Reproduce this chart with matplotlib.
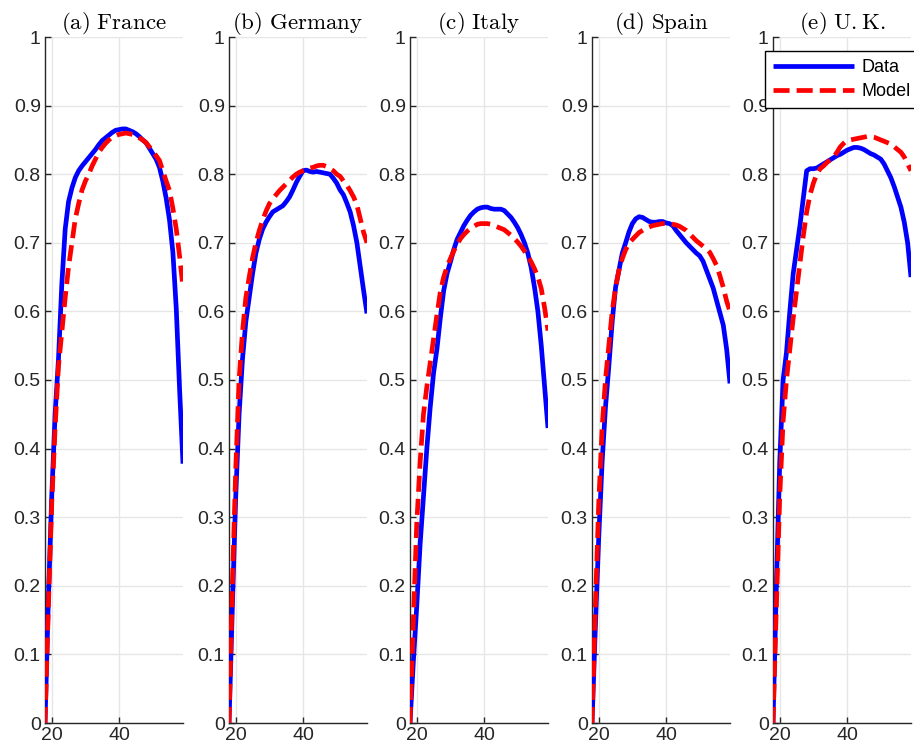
import numpy as np
import matplotlib
matplotlib.use("Agg")
import matplotlib.pyplot as plt

plt.rcParams["font.family"] = ["Liberation Sans", "DejaVu Sans"]
plt.rcParams["mathtext.fontset"] = "cm"

ages = list(range(18, 60))

titles = ["(a) France", "(b) Germany", "(c) Italy", "(d) Spain", "(e) U.K."]

france_data = [0.0, 0.18, 0.33, 0.45, 0.53, 0.64, 0.72, 0.76, 0.78, 0.795,
               0.805, 0.812, 0.818, 0.824, 0.83, 0.836, 0.843, 0.849, 0.853, 0.857,
               0.861, 0.864, 0.865, 0.866, 0.866, 0.864, 0.862, 0.859, 0.855, 0.85,
               0.846, 0.838, 0.83, 0.822, 0.81, 0.79, 0.765, 0.733, 0.686, 0.604,
               0.485, 0.378]
france_model = [0.0, 0.17, 0.32, 0.43, 0.52, 0.57, 0.62, 0.665, 0.70, 0.735,
                0.757, 0.777, 0.79, 0.80, 0.812, 0.822, 0.832, 0.839, 0.845, 0.85,
                0.854, 0.856, 0.858, 0.859, 0.86, 0.859, 0.858, 0.856, 0.853, 0.85,
                0.846, 0.84, 0.833, 0.827, 0.82, 0.805, 0.79, 0.776, 0.75, 0.72,
                0.68, 0.635]

germany_data = [0.0, 0.17, 0.33, 0.45, 0.53, 0.585, 0.62, 0.655, 0.685, 0.705,
                0.72, 0.73, 0.738, 0.745, 0.748, 0.751, 0.754, 0.76, 0.767, 0.777,
                0.788, 0.797, 0.805, 0.806, 0.804, 0.803, 0.804, 0.803, 0.802, 0.801,
                0.80, 0.794, 0.787, 0.777, 0.77, 0.758, 0.745, 0.725, 0.70, 0.665,
                0.63, 0.597]
germany_model = [0.0, 0.2, 0.37, 0.5, 0.57, 0.62, 0.65, 0.678, 0.70, 0.718,
                 0.733, 0.746, 0.757, 0.764, 0.77, 0.776, 0.781, 0.786, 0.791, 0.796,
                 0.80, 0.803, 0.805, 0.807, 0.809, 0.81, 0.812, 0.813, 0.813, 0.811,
                 0.808, 0.805, 0.80, 0.797, 0.79, 0.784, 0.776, 0.767, 0.755, 0.735,
                 0.715, 0.70]

italy_data = [0.0, 0.09, 0.17, 0.26, 0.33, 0.40, 0.46, 0.51, 0.545, 0.59,
              0.63, 0.655, 0.672, 0.69, 0.705, 0.715, 0.725, 0.733, 0.74, 0.745,
              0.749, 0.751, 0.752, 0.752, 0.75, 0.749, 0.749, 0.749, 0.747, 0.742,
              0.737, 0.73, 0.722, 0.712, 0.70, 0.685, 0.664, 0.635, 0.60, 0.55,
              0.49, 0.43]
italy_model = [0.0, 0.15, 0.29, 0.38, 0.45, 0.49, 0.525, 0.56, 0.595, 0.628,
               0.65, 0.665, 0.677, 0.688, 0.698, 0.706, 0.712, 0.717, 0.721, 0.724,
               0.727, 0.728, 0.728, 0.728, 0.727, 0.725, 0.723, 0.721, 0.719, 0.715,
               0.711, 0.706, 0.701, 0.695, 0.688, 0.681, 0.672, 0.662, 0.65, 0.633,
               0.605, 0.572]

spain_data = [0.0, 0.14, 0.27, 0.38, 0.46, 0.52, 0.585, 0.635, 0.66, 0.685,
              0.70, 0.716, 0.728, 0.735, 0.738, 0.737, 0.734, 0.731, 0.73, 0.73,
              0.731, 0.731, 0.729, 0.728, 0.725, 0.718, 0.712, 0.706, 0.70, 0.695,
              0.69, 0.685, 0.681, 0.673, 0.66, 0.647, 0.634, 0.616, 0.598, 0.58,
              0.545, 0.495]
spain_model = [0.0, 0.17, 0.32, 0.43, 0.50, 0.55, 0.60, 0.635, 0.66, 0.677,
               0.69, 0.699, 0.705, 0.71, 0.715, 0.718, 0.721, 0.723, 0.725, 0.726,
               0.727, 0.728, 0.728, 0.728, 0.727, 0.726, 0.724, 0.721, 0.718, 0.713,
               0.708, 0.703, 0.699, 0.695, 0.691, 0.686, 0.677, 0.667, 0.652, 0.635,
               0.615, 0.60]

uk_data = [0.0, 0.2, 0.38, 0.5, 0.54, 0.60, 0.655, 0.69, 0.725, 0.765,
           0.805, 0.808, 0.808, 0.809, 0.812, 0.815, 0.818, 0.821, 0.824, 0.827,
           0.829, 0.832, 0.835, 0.837, 0.839, 0.839, 0.838, 0.836, 0.833, 0.83,
           0.828, 0.825, 0.822, 0.815, 0.805, 0.795, 0.782, 0.767, 0.752, 0.73,
           0.70, 0.65]
uk_model = [0.0, 0.17, 0.33, 0.44, 0.50, 0.545, 0.59, 0.63, 0.67, 0.71,
            0.745, 0.77, 0.787, 0.80, 0.808, 0.812, 0.817, 0.821, 0.825, 0.832,
            0.84, 0.845, 0.849, 0.85, 0.851, 0.852, 0.853, 0.854, 0.855, 0.855,
            0.854, 0.852, 0.85, 0.848, 0.846, 0.844, 0.84, 0.836, 0.832, 0.825,
            0.815, 0.805]

data_series = [france_data, germany_data, italy_data, spain_data, uk_data]
model_series = [france_model, germany_model, italy_model, spain_model, uk_model]

W, H = 914, 754
fig = plt.figure(figsize=(W / 100, H / 100), dpi=100)

lefts = [45, 229, 410, 592, 773]
ax_w, ax_b, ax_h = 138, 31, 686
txt = "#262626"

for i in range(5):
    ax = fig.add_axes([lefts[i] / W, ax_b / H, ax_w / W, ax_h / H])
    ax.plot(ages, data_series[i], color="blue", lw=3.4, label="Data",
            solid_capstyle="butt", zorder=3)
    ax.plot(ages, model_series[i], color="red", lw=3.4, ls="--", dashes=(3.4, 1.5),
            label="Model", zorder=4)
    ax.set_xlim(18, 59)
    ax.set_ylim(0, 1)
    ax.set_xticks([20, 40])
    ax.set_yticks(np.arange(0, 1.01, 0.1))
    ax.set_yticklabels(["0", "0.1", "0.2", "0.3", "0.4", "0.5", "0.6", "0.7",
                        "0.8", "0.9", "1"])
    ax.grid(True, color="#e6e6e6", lw=1, zorder=0)
    ax.set_axisbelow(True)
    for s in ["top", "right"]:
        ax.spines[s].set_visible(False)
    for s in ["left", "bottom"]:
        ax.spines[s].set_color(txt)
        ax.spines[s].set_linewidth(1)
    ax.tick_params(direction="in", length=4, width=1, colors=txt,
                   labelsize=14, pad=3)
    ax.set_title(r"$\mathrm{" + titles[i].replace(" ", r"\ ") + "}$",
                 fontsize=16.5, pad=4, color="black")
    if i == 4:
        ax.legend(loc="upper left", bbox_to_anchor=(765 / W, 1 - 51 / H),
                  bbox_transform=fig.transFigure, fontsize=13, frameon=True,
                  fancybox=False, edgecolor="black", framealpha=1,
                  handlelength=4.5, borderaxespad=0, borderpad=0.45,
                  labelspacing=0.4, handletextpad=0.4)

fig.savefig("out.png", dpi=100)
